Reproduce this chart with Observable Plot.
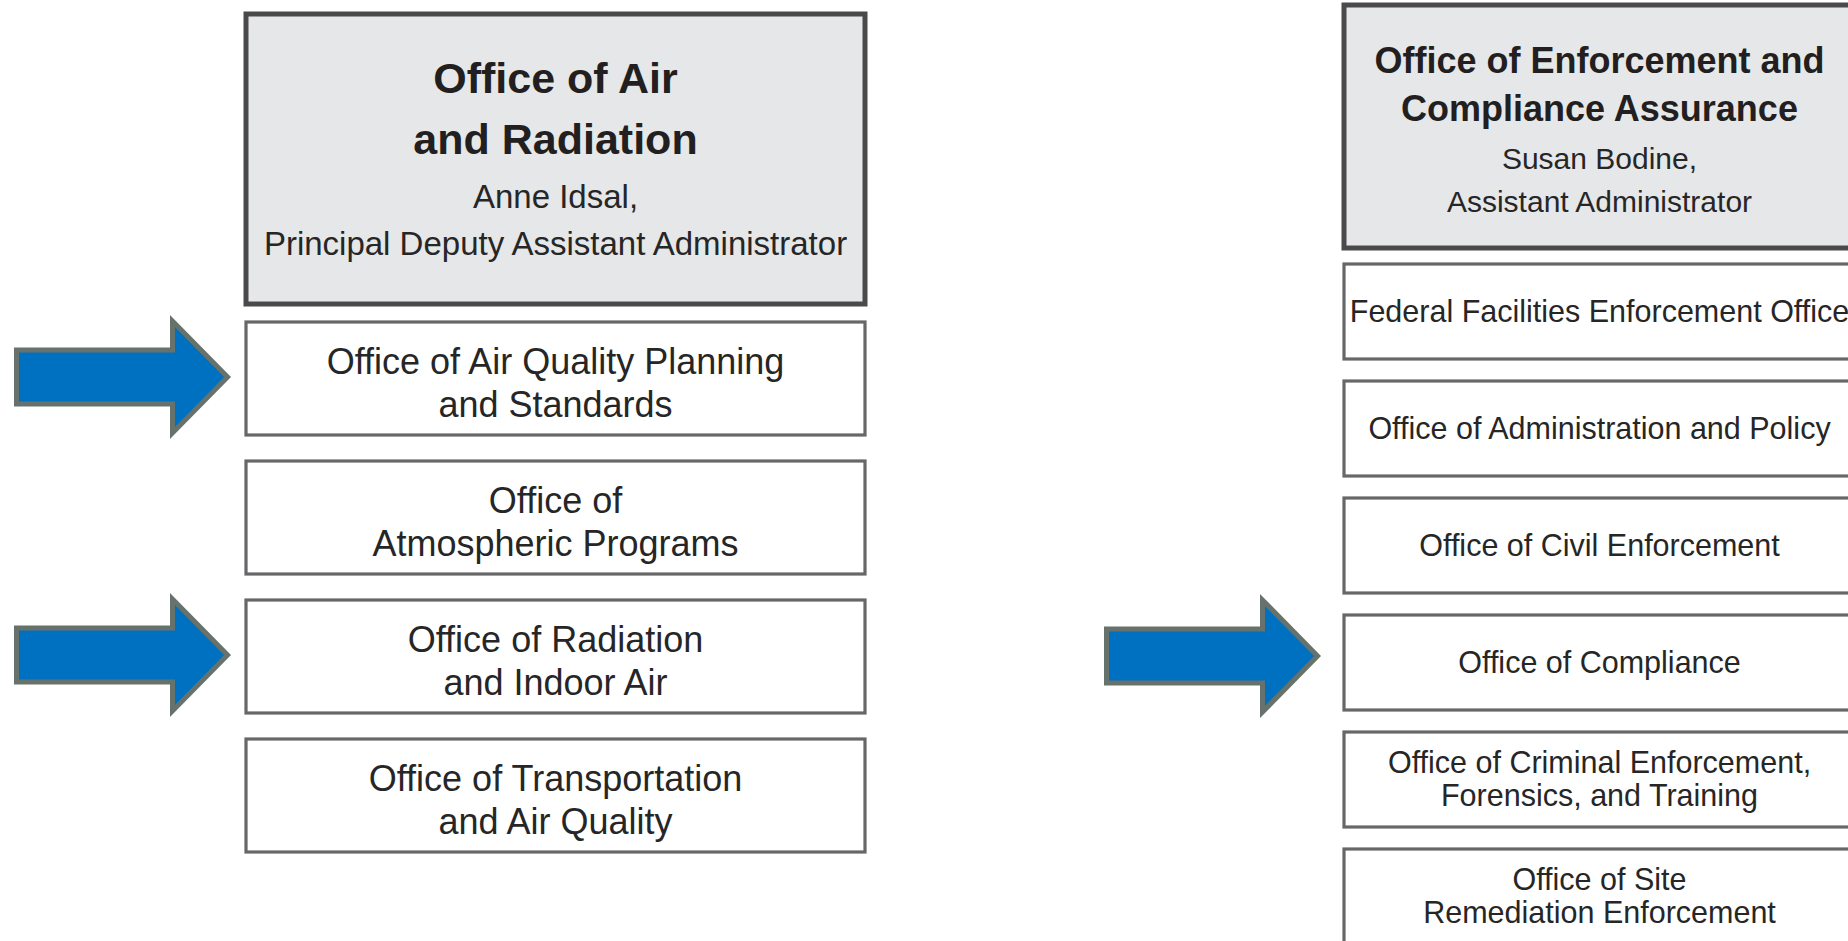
<!DOCTYPE html>
<html>
<head>
<meta charset="utf-8">
<script src="https://cdn.jsdelivr.net/npm/d3@7"></script>
<script src="https://cdn.jsdelivr.net/npm/@observablehq/plot@0.6"></script>
<style>
  html, body { margin: 0; padding: 0; background: #fff; overflow: hidden; }
  #chart svg { display: block; max-width: none; }
</style>
</head>
<body>
<div id="chart"></div>
<script>
// ---------- DATA (texts only) ----------
const leftTitle = ["Office of Air", "and Radiation"];
const leftHead = ["Anne Idsal,", "Principal Deputy Assistant Administrator"];
const leftOffices = [
  "Office of Air Quality Planning\nand Standards",
  "Office of\nAtmospheric Programs",
  "Office of Radiation\nand Indoor Air",
  "Office of Transportation\nand Air Quality"
];
const leftArrowed = [
  "Office of Air Quality Planning\nand Standards",
  "Office of Radiation\nand Indoor Air"
];

const rightTitle = ["Office of Enforcement and", "Compliance Assurance"];
const rightHead = ["Susan Bodine,", "Assistant Administrator"];
const rightOffices = [
  "Federal Facilities Enforcement Office",
  "Office of Administration and Policy",
  "Office of Civil Enforcement",
  "Office of Compliance",
  "Office of Criminal Enforcement,\nForensics, and Training",
  "Office of Site\nRemediation Enforcement"
];
const rightArrowed = ["Office of Compliance"];

// ---------- LAYOUT ----------
const W = 1848, H = 941;
const FONT = '"Liberation Sans", Arial, "DejaVu Sans", sans-serif';
const ARROW = {len: 211, head: 55, headHalf: 56, shaftHalf: 27};

const columns = [
  {x0: 246, x1: 865, cx: 555, headTop: 14, headBottom: 304,
   officeTop: 322, step: 139, boxH: 113,
   titleBase: 92, titleStep: 61, titleSize: 43,
   personBase: 207, personStep: 47, personSize: 33,
   officeSize: 36, officeLH: 1.19, officeDy: 3,
   arrowGap: 19, arrowDy: -2,
   title: leftTitle, person: leftHead, offices: leftOffices, arrowed: leftArrowed},
  {x0: 1344, x1: 1856, cx: 1599, headTop: 5, headBottom: 248,
   officeTop: 264, step: 117, boxH: 95,
   titleBase: 72, titleStep: 48, titleSize: 36,
   personBase: 168, personStep: 43, personSize: 30,
   officeSize: 30.5, officeLH: 1.08, officeDy: -1,
   arrowGap: 27, arrowDy: -7,
   title: rightTitle, person: rightHead, offices: rightOffices, arrowed: rightArrowed}
];

const marks = [];
columns.forEach((c, ci) => {
  const head = [{x1: c.x0, x2: c.x1, y1: c.headTop, y2: c.headBottom}];
  const boxes = c.offices.map((t, i) => ({
    text: t,
    x1: c.x0, x2: c.x1,
    y1: c.officeTop + i * c.step,
    y2: c.officeTop + i * c.step + c.boxH
  }));
  const titles = c.title.map((t, i) => ({text: t, x: c.cx, y: c.titleBase + i * c.titleStep - 0.32 * c.titleSize}));
  const persons = c.person.map((t, i) => ({text: t, x: c.cx, y: c.personBase + i * c.personStep - 0.32 * c.personSize}));
  const officeTexts = boxes.map(b => ({text: b.text, x: c.cx, y: (b.y1 + b.y2) / 2 + c.officeDy}));
  const arrows = [];
  boxes.filter(b => c.arrowed.includes(b.text)).forEach((b, k) => {
    const tx = c.x0 - c.arrowGap, ty = (b.y1 + b.y2) / 2 + c.arrowDy;
    const id = ci + "-" + k;
    const pts = [
      [tx - ARROW.len, ty - ARROW.shaftHalf],
      [tx - ARROW.head, ty - ARROW.shaftHalf],
      [tx - ARROW.head, ty - ARROW.headHalf],
      [tx, ty],
      [tx - ARROW.head, ty + ARROW.headHalf],
      [tx - ARROW.head, ty + ARROW.shaftHalf],
      [tx - ARROW.len, ty + ARROW.shaftHalf]
    ];
    pts.forEach(([x, y]) => arrows.push({id, x, y}));
  });

  marks.push(
    Plot.rect(head, {x1: "x1", x2: "x2", y1: "y1", y2: "y2", fill: "#e6e7e8", stroke: "#4a4a4c", strokeWidth: 5}),
    Plot.rect(boxes, {x1: "x1", x2: "x2", y1: "y1", y2: "y2", fill: "#ffffff", stroke: "#666769", strokeWidth: 3.2}),
    Plot.line(arrows, {x: "x", y: "y", z: "id", curve: "linear-closed", fill: "#0070c0", stroke: "#66726b",
      strokeWidth: 5, strokeLinejoin: "miter", strokeMiterlimit: 10, strokeLinecap: "butt"}),
    Plot.text(titles, {x: "x", y: "y", text: "text", fontSize: c.titleSize, fontWeight: "bold",
      fontFamily: FONT, fill: "#231f20"}),
    Plot.text(persons, {x: "x", y: "y", text: "text", fontSize: c.personSize,
      fontFamily: FONT, fill: "#262626"}),
    Plot.text(officeTexts, {x: "x", y: "y", text: "text", fontSize: c.officeSize, lineHeight: c.officeLH,
      fontFamily: FONT, fill: "#262626"})
  );
});

const chart = Plot.plot({
  width: W,
  height: H,
  margin: 0,
  style: {background: "#ffffff", overflow: "hidden"},
  x: {domain: [0, W], range: [0, W], axis: null},
  y: {domain: [0, H], range: [0, H], axis: null},
  marks
});
document.getElementById("chart").appendChild(chart);
</script>
</body>
</html>
